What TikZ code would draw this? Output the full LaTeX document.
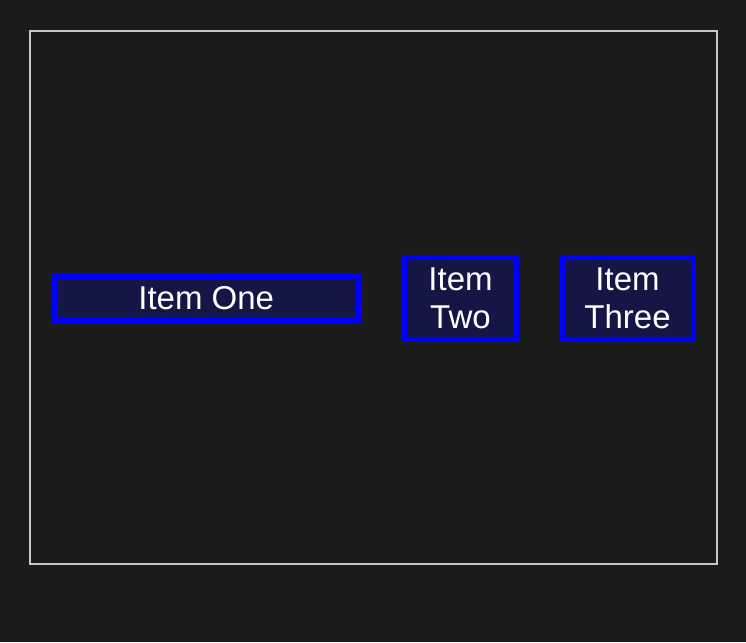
\documentclass[tikz,border=0pt]{standalone}
\usepackage{fontspec}
\setmainfont{Liberation Sans}
\usepackage{xcolor}
\usepackage{tikz}
\usetikzlibrary{positioning}
\definecolor{ItemPage}{HTML}{1B1B1B}
\definecolor{ItemFrame}{HTML}{C8C8C8}
\definecolor{ItemBlue}{HTML}{0000FF}
\definecolor{ItemNavy}{HTML}{161646}
\tikzset{
  every node/.style = {font=\fontsize{33}{38}\selectfont, text=white},
  item box/.style = {
    draw=ItemBlue,
    fill=ItemNavy,
    line width=5pt,
    align=center,
    inner sep=2pt
  },
  frame box/.style = {
    draw=ItemFrame,
    line width=1.6pt
  },
}

\begin{document}
\begin{tikzpicture}[x=1pt,y=-1pt]
  \fill[ItemPage] (0,0) rectangle (746,642);
  \useasboundingbox (0,0) rectangle (746,642);

  \draw[frame box] (30,31) rectangle (717,564);

  \node[item box, minimum width=303.5pt, minimum height=44pt] (itemone) at (206.25,298) {Item One};
  \node[item box, minimum width=112pt, minimum height=82pt] (itemtwo) at (460.5,298) {Item\\Two};
  \node[item box, minimum width=131pt, minimum height=82pt] (itemthree) at (627.5,298) {Item\\Three};
\end{tikzpicture}
\end{document}
